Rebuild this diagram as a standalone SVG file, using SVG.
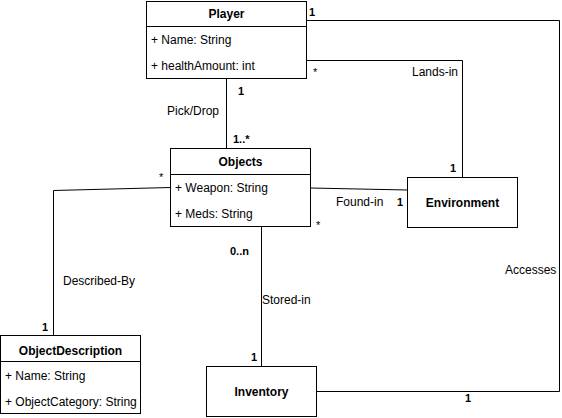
<svg xmlns="http://www.w3.org/2000/svg" width="562" height="418" viewBox="0 0 562 418">
<style>
  .box { fill: #ffffff; stroke: #000000; stroke-width: 1; }
  .sep { fill: none; stroke: #000000; stroke-width: 1; }
  .edge { fill: none; stroke: #000000; stroke-width: 1; }
  .title { font-family: "Liberation Sans", Arial, sans-serif; font-size: 12px; font-weight: bold; fill: #000000; text-anchor: middle; }
  .attr { font-family: "Liberation Sans", Arial, sans-serif; font-size: 12px; fill: #000000; }
  .lbl { font-family: "Liberation Sans", Arial, sans-serif; font-size: 12px; fill: #000000; }
  .star { font-family: "Liberation Sans", Arial, sans-serif; font-size: 11px; fill: #000000; }
  .mult { font-family: "Liberation Sans", Arial, sans-serif; font-size: 11px; font-weight: bold; fill: #000000; }
</style>
<rect width="562" height="418" fill="#ffffff"/>
<g id="connectors">
  <!-- Player - Objects -->
  <path class="edge" d="M226.5 78.5 L226.5 148.5"/>
  <!-- Player - Environment -->
  <path class="edge" d="M306.5 60.5 L462.5 60.5 L462.5 177.5"/>
  <!-- Player - Inventory -->
  <path class="edge" d="M306.5 20.5 L559.5 20.5 L559.5 391.5 L316.5 391.5"/>
  <!-- Objects - Environment -->
  <path class="edge" d="M310.5 188 L407 190"/>
  <!-- Objects - ObjectDescription -->
  <path class="edge" d="M170.5 187.5 L53.5 190.5 L53.5 335.5"/>
  <!-- Objects - Inventory -->
  <path class="edge" d="M261.5 226.5 L261.5 366.5"/>
  <text class="mult" x="309" y="16">1</text>
  <text class="star" x="313" y="76">*</text>
  <text class="lbl" x="412" y="76">Lands-in</text>
  <text class="mult" x="450" y="172">1</text>
  <text class="mult" x="238" y="95">1</text>
  <text class="lbl" x="167" y="115">Pick/Drop</text>
  <text class="mult" x="233" y="143">1..*</text>
  <text class="star" x="159" y="181">*</text>
  <text class="star" x="316" y="229">*</text>
  <text class="lbl" x="336" y="206">Found-in</text>
  <text class="mult" x="397" y="206">1</text>
  <text class="mult" x="230" y="255">0..n</text>
  <text class="lbl" x="63" y="285">Described-By</text>
  <text class="lbl" x="262" y="304">Stored-in</text>
  <text class="lbl" x="505" y="274">Accesses</text>
  <text class="mult" x="42" y="331">1</text>
  <text class="mult" x="251" y="361">1</text>
  <text class="mult" x="465" y="402">1</text>
</g>
<g id="player">
  <rect class="box" x="146.5" y="1.5" width="160" height="77"/>
  <path class="sep" d="M146.5 26.5 L306.5 26.5"/>
  <text class="title" x="226.5" y="18">Player</text>
  <text class="attr" x="151" y="44">+ Name: String</text>
  <text class="attr" x="151" y="70">+ healthAmount: int</text>
</g>
<g id="objects">
  <rect class="box" x="170.5" y="148.5" width="140" height="78"/>
  <path class="sep" d="M170.5 174.5 L310.5 174.5"/>
  <text class="title" x="240.5" y="166">Objects</text>
  <text class="attr" x="175" y="192">+ Weapon: String</text>
  <text class="attr" x="175" y="218">+ Meds: String</text>
</g>
<g id="environment">
  <rect class="box" x="407.5" y="177.5" width="110" height="50"/>
  <text class="title" x="462.5" y="207">Environment</text>
</g>
<g id="objectdescription">
  <rect class="box" x="0.5" y="335.5" width="140" height="78"/>
  <path class="sep" d="M0.5 361.5 L140.5 361.5"/>
  <text class="title" x="70.5" y="355">ObjectDescription</text>
  <text class="attr" x="5" y="380">+ Name: String</text>
  <text class="attr" x="5" y="406">+ ObjectCategory: String</text>
</g>
<g id="inventory">
  <rect class="box" x="206.5" y="366.5" width="110" height="50"/>
  <text class="title" x="261.5" y="396">Inventory</text>
</g>
</svg>
